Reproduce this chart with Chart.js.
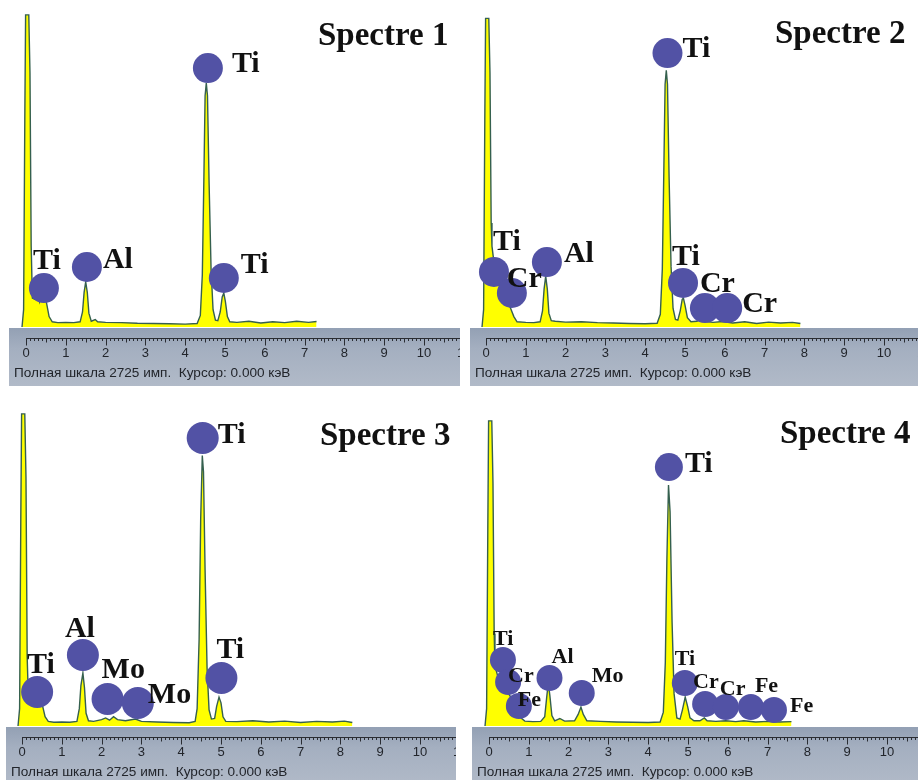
<!DOCTYPE html>
<html>
<head>
<meta charset="utf-8">
<script src="https://cdn.jsdelivr.net/npm/chart.js@4.4.0/dist/chart.umd.min.js"></script>
<style>
    body { margin: 0; background: #fff; width: 918px; height: 780px; overflow: hidden; position: relative; }
    canvas { position: absolute; }
</style>
</head>
<body>
<canvas id="spec1" width="460" height="390" style="left:0px;top:0px"></canvas>
<canvas id="spec2" width="460" height="390" style="left:460px;top:0px"></canvas>
<canvas id="spec3" width="460" height="390" style="left:-4px;top:399px"></canvas>
<canvas id="spec4" width="460" height="390" style="left:463px;top:399px"></canvas>
<script>
// values: energy (keV), counts
const fullScale = 2725;
const tickLabels = ['0', '1', '2', '3', '4', '5', '6', '7', '8', '9', '10', '11'];
const statusText = 'Полная шкала 2725 имп.  Курсор: 0.000 кэВ';
const titles = ['Spectre 1', 'Spectre 2', 'Spectre 3', 'Spectre 4'];

const spectrum1 = [[-0.10,0],[-0.06,150],[-0.03,1800],[-0.01,2700],[0.07,2700],[0.10,2200],[0.13,700],[0.16,250],
    [0.22,240],[0.28,300],[0.34,220],[0.40,330],[0.46,300],[0.52,200],[0.58,90],[0.66,45],[0.80,38],[1.00,40],
    [1.20,38],[1.36,45],[1.42,130],[1.46,300],[1.50,390],[1.54,300],[1.58,120],[1.64,50],[1.74,65],[1.80,45],
    [2.00,40],[2.40,38],[2.80,32],[3.20,30],[3.60,28],[4.00,25],[4.30,30],[4.38,100],[4.43,450],[4.47,1300],
    [4.50,2000],[4.53,2110],[4.56,2000],[4.60,1250],[4.65,500],[4.70,150],[4.76,60],[4.82,55],[4.88,130],
    [4.93,260],[4.97,294],[5.01,220],[5.06,90],[5.12,45],[5.30,40],[5.60,50],[5.90,35],[6.20,45],[6.50,38],
    [6.80,50],[7.10,40],[7.30,48]];

const spectrum2 = [[-0.10,0],[-0.06,150],[-0.03,1800],[-0.01,2670],[0.07,2670],[0.10,2200],[0.13,900],[0.15,700],
    [0.20,560],[0.27,480],[0.35,420],[0.45,330],[0.55,220],[0.62,160],[0.70,90],[0.78,45],[1.00,40],[1.20,38],
    [1.36,45],[1.42,140],[1.46,330],[1.50,440],[1.54,330],[1.58,120],[1.64,55],[1.74,50],[2.00,42],[2.40,45],
    [2.80,38],[3.20,35],[3.60,30],[4.00,28],[4.30,32],[4.38,110],[4.43,500],[4.47,1400],[4.50,2100],[4.53,2220],
    [4.56,2100],[4.60,1300],[4.65,520],[4.70,160],[4.76,65],[4.82,60],[4.88,140],[4.93,240],[4.96,250],
    [5.00,190],[5.06,80],[5.15,45],[5.30,50],[5.41,75],[5.50,50],[5.70,40],[5.95,48],[6.20,35],[6.50,45],
    [6.80,30],[7.10,42],[7.40,35],[7.70,40],[7.90,30]];

const spectrum3 = [[-0.10,0],[-0.06,150],[-0.03,1800],[-0.01,2700],[0.07,2700],[0.10,2150],[0.13,600],[0.16,240],
    [0.22,230],[0.30,250],[0.38,280],[0.45,240],[0.52,170],[0.58,80],[0.66,40],[0.80,32],[1.00,35],[1.20,33],
    [1.38,40],[1.44,150],[1.48,350],[1.53,458],[1.57,330],[1.61,110],[1.67,45],[1.80,40],[2.00,55],[2.10,70],
    [2.20,50],[2.30,80],[2.40,55],[2.60,45],[2.85,60],[3.00,40],[3.40,35],[3.80,30],[4.20,28],[4.35,40],
    [4.40,150],[4.45,750],[4.49,1800],[4.53,2340],[4.56,2200],[4.60,1350],[4.65,500],[4.70,140],[4.76,60],
    [4.84,65],[4.89,170],[4.95,250],[5.00,200],[5.05,80],[5.12,40],[5.40,38],[5.80,45],[6.20,35],[6.60,42],
    [7.00,30],[7.40,40],[7.80,35],[8.10,42],[8.30,30]];

const spectrum4 = [[-0.10,0],[-0.06,150],[-0.03,1700],[-0.01,2640],[0.07,2640],[0.10,2100],[0.13,800],[0.15,520],
    [0.22,430],[0.30,390],[0.38,360],[0.45,300],[0.55,250],[0.65,200],[0.72,150],[0.80,70],[0.90,42],[1.10,38],
    [1.30,40],[1.40,80],[1.45,250],[1.49,372],[1.53,260],[1.58,90],[1.65,45],[1.78,65],[1.90,42],[2.15,45],
    [2.24,100],[2.31,164],[2.37,100],[2.46,45],[2.80,40],[3.20,35],[3.60,32],[4.00,30],[4.30,35],[4.38,120],
    [4.43,550],[4.47,1450],[4.51,2085],[4.55,1850],[4.60,900],[4.65,280],[4.72,70],[4.80,60],[4.86,140],
    [4.93,250],[4.99,170],[5.05,70],[5.15,45],[5.30,45],[5.41,70],[5.48,45],[5.70,40],[5.95,45],[6.20,38],
    [6.40,45],[6.70,35],[7.00,40],[7.30,35],[7.60,38]];

// element markers: name, energy (keV), counts at the marker
const peakNames1 = ['Ti', 'Ti', 'Al', 'Ti'];
const peakKeV1 = [4.57, 0.45, 1.53, 4.97];
const peakCounts1 = [2240, 337, 519, 424];

const peakNames2 = ['Ti', 'Ti', 'Cr', 'Al', 'Ti', 'Cr', 'Cr'];
const peakKeV2 = [4.56, 0.20, 0.65, 1.53, 4.95, 5.50, 6.06];
const peakCounts2 = [2370, 476, 294, 562, 381, 164, 164];

const peakNames3 = ['Ti', 'Ti', 'Al', 'Mo', 'Mo', 'Ti'];
const peakKeV3 = [4.54, 0.38, 1.53, 2.15, 2.91, 5.01];
const peakCounts3 = [2491, 294, 614, 234, 199, 415];

const peakNames4 = ['Ti', 'Ti', 'Cr', 'Fe', 'Al', 'Mo', 'Ti', 'Cr', 'Cr', 'Fe', 'Fe'];
const peakKeV4 = [4.52, 0.35, 0.48, 0.75, 1.52, 2.33, 4.92, 5.43, 5.95, 6.58, 7.16];
const peakCounts4 = [2240, 571, 381, 173, 415, 285, 372, 190, 164, 164, 138];

// layout only: label shift from marker centre (px), marker radius, fonts
const panelStyles = [
    { radius: 15, labelFont: [30], titleX: 318, titleY: 45, bandLeft: 9, bandRight: 461,
      shifts: [[24,4],[-11,-19],[16,1],[17,-5]] },
    { radius: 15, labelFont: [30], titleX: 315, titleY: 43, bandLeft: 10, bandRight: 460,
      shifts: [[15,4],[-1,-22],[-5,-6],[17,0],[-11,-18],[-5,-16],[15,4]] },
    { radius: 16, labelFont: [30], titleX: 324, titleY: 46, bandLeft: 10, bandRight: 460,
      shifts: [[15,5],[-10,-19],[-18,-18],[-6,-21],[10,0],[-5,-20]] },
    { radius: 13, labelFont: [30, 22], titleX: 317, titleY: 44, bandLeft: 9, bandRight: 460,
      shifts: [[16,5],[-10,-15],[0,0],[-1,0],[2,-15],[10,-11],[-10,-18],[-12,-16],[-6,-12],[4,-15],[16,2]] }
];

const zeroPx = 26;       // where 0 keV sits in every panel
const pxPerKeV = 39.8;
const areaLeft = 10, areaRight = 458, areaTop = 12, areaBottom = 327;

const rulerPlugin = {
    id: 'ruler',
    afterDraw(chart, args, opts) {
        const ctx = chart.ctx;
        const x = chart.scales.x;
        const st = opts.style;
        const bandTop = 328, bandBottom = 386;
        ctx.save();
        const grad = ctx.createLinearGradient(0, bandTop, 0, bandBottom);
        grad.addColorStop(0, '#93a0b4');
        grad.addColorStop(0.35, '#a4afc0');
        grad.addColorStop(1, '#b1bac8');
        ctx.fillStyle = grad;
        ctx.fillRect(st.bandLeft, bandTop, st.bandRight - st.bandLeft, bandBottom - bandTop);
        ctx.beginPath();
        ctx.rect(st.bandLeft, bandTop, st.bandRight - st.bandLeft, bandBottom - bandTop);
        ctx.clip();

        // ruler line and ticks
        const lineY = 338.5;
        ctx.strokeStyle = '#2a2d33';
        ctx.lineWidth = 1;
        ctx.beginPath();
        ctx.moveTo(x.getPixelForValue(0), lineY);
        ctx.lineTo(st.bandRight, lineY);
        for (let i = 0; i <= 115; i++) {
            const px = Math.round(x.getPixelForValue(i / 10)) + 0.5;
            const len = i % 10 === 0 ? 7 : (i % 5 === 0 ? 4 : 2.5);
            ctx.moveTo(px, lineY);
            ctx.lineTo(px, lineY + len);
        }
        ctx.stroke();

        ctx.fillStyle = '#22252b';
        ctx.font = '13px "Liberation Sans", Arial, sans-serif';
        ctx.textAlign = 'center';
        ctx.textBaseline = 'middle';
        tickLabels.forEach((t, i) => ctx.fillText(t, x.getPixelForValue(i), 353));

        ctx.textAlign = 'left';
        ctx.textBaseline = 'alphabetic';
        ctx.font = '13.6px "Liberation Sans", Arial, sans-serif';
        ctx.fillText(statusText, st.bandLeft + 5, 377);
        ctx.restore();
    }
};

const labelPlugin = {
    id: 'peakLabels',
    afterDatasetsDraw(chart, args, opts) {
        const ctx = chart.ctx;
        const st = opts.style;
        const meta = chart.getDatasetMeta(0);
        ctx.save();
        ctx.fillStyle = '#111';
        ctx.textAlign = 'left';
        ctx.textBaseline = 'alphabetic';
        meta.data.forEach((pt, i) => {
            const size = i === 0 ? st.labelFont[0] : st.labelFont[st.labelFont.length - 1];
            ctx.font = 'bold ' + size + 'px "Liberation Serif", "Times New Roman", serif';
            const s = st.shifts[i];
            ctx.fillText(opts.names[i], pt.x + s[0], pt.y + s[1]);
        });
        ctx.font = 'bold 33px "Liberation Serif", "Times New Roman", serif';
        ctx.fillText(opts.title, st.titleX, st.titleY);
        ctx.restore();
    }
};

function drawSpectrum(id, spectrum, names, keV, counts, title, st) {
    const markers = keV.map((e, i) => ({ x: e, y: counts[i] }));
    const radii = keV.map((e, i) => (i === 0 && st.radius < 15) ? st.radius + 1 : st.radius);
    new Chart(document.getElementById(id), {
        type: 'scatter',
        data: {
            datasets: [
                {
                    data: markers,
                    pointRadius: radii,
                    pointHoverRadius: radii,
                    backgroundColor: '#5252a5',
                    borderWidth: 0,
                    clip: false
                },
                {
                    type: 'line',
                    data: spectrum.map(p => ({ x: p[0], y: p[1] })),
                    borderColor: '#35604f',
                    borderWidth: 1.4,
                    backgroundColor: '#ffff00',
                    fill: 'origin',
                    pointRadius: 0,
                    tension: 0
                }
            ]
        },
        options: {
            responsive: false,
            animation: false,
            devicePixelRatio: 1,
            layout: {
                autoPadding: false,
                padding: { left: areaLeft, right: 460 - areaRight, top: areaTop, bottom: 390 - areaBottom }
            },
            scales: {
                x: {
                    type: 'linear', display: false,
                    min: (areaLeft - zeroPx) / pxPerKeV,
                    max: (areaRight - zeroPx) / pxPerKeV
                },
                y: { display: false, min: 0, max: fullScale }
            },
            plugins: {
                legend: { display: false },
                tooltip: { enabled: false },
                ruler: { style: st },
                peakLabels: { style: st, names: names, title: title }
            }
        },
        plugins: [rulerPlugin, labelPlugin]
    });
}

drawSpectrum('spec1', spectrum1, peakNames1, peakKeV1, peakCounts1, titles[0], panelStyles[0]);
drawSpectrum('spec2', spectrum2, peakNames2, peakKeV2, peakCounts2, titles[1], panelStyles[1]);
drawSpectrum('spec3', spectrum3, peakNames3, peakKeV3, peakCounts3, titles[2], panelStyles[2]);
drawSpectrum('spec4', spectrum4, peakNames4, peakKeV4, peakCounts4, titles[3], panelStyles[3]);
</script>
</body>
</html>
